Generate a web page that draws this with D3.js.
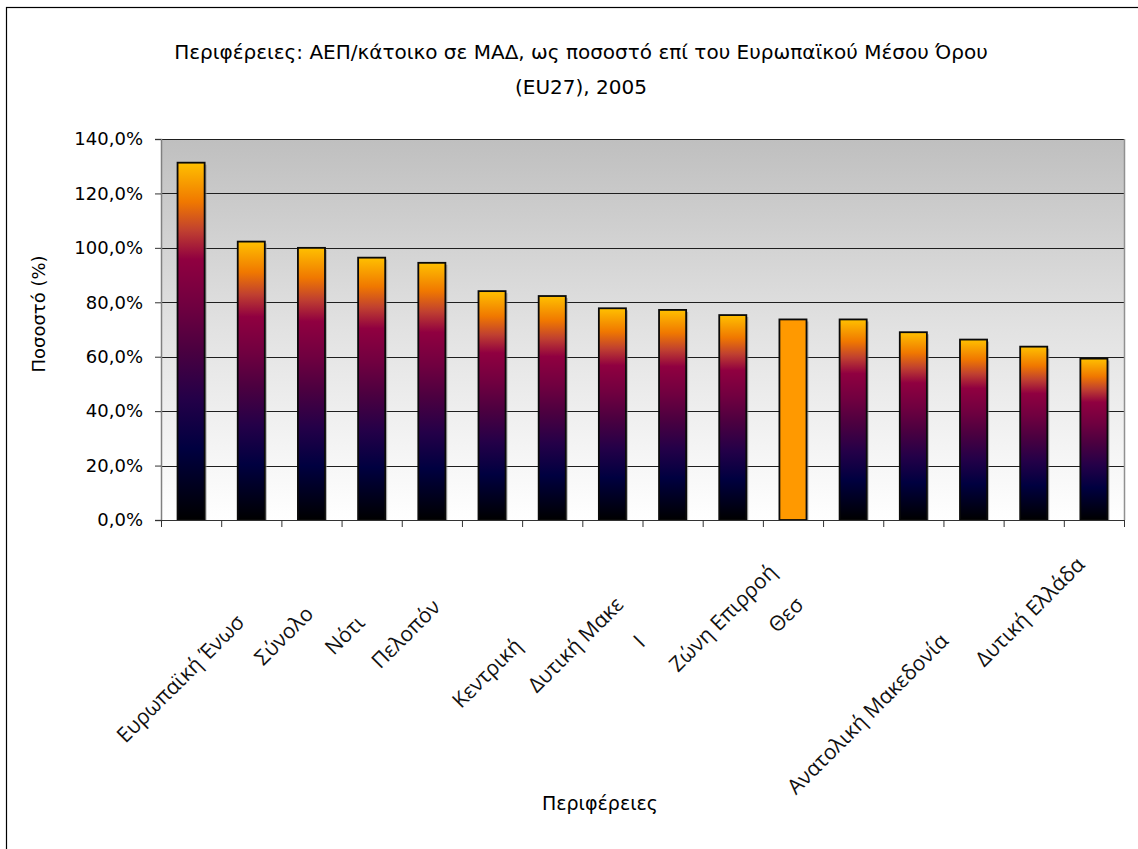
<!DOCTYPE html>
<html>
<head>
<meta charset="utf-8">
<script src="https://cdn.jsdelivr.net/npm/d3@7"></script>
<style>
body { margin: 0; background: #fff; }
text { font-family: "DejaVu Sans", sans-serif; }
.cat { font-family: "Open Sans", "Noto Sans", sans-serif; font-size: 21px; fill: #111; }
</style>
</head>
<body>
<div id="root"></div>
<script>
// data
var categories = [
  "Αττική",
  "Στερεά Ελλάδα",
  "Ευρωπαϊκή Ένωση (EU27)",
  "Σύνολο Χώρας",
  "Νότιο Αιγαίο",
  "Πελοπόννησος",
  "Κρήτη",
  "Κεντρική Μακεδονία",
  "Δυτική Μακεδονία",
  "Ιόνια Νησιά",
  "Ζώνη Επιρροής",
  "Θεσσαλία",
  "Βόρειο Αιγαίο",
  "Ήπειρος",
  "Ανατολική Μακεδονία και Θράκη",
  "Δυτική Ελλάδα"
];
var values = [131.3, 102.3, 100.0, 96.4, 94.5, 84.1, 82.3, 77.8, 77.2, 75.3, 73.7, 73.7, 69.0, 66.3, 63.7, 59.3];
// what is actually readable under each bar (the rest is cut off in the original)
var tickLabels = [
  "", "", "Ευρωπαϊκή Ένωσ", "Σύνολο", "Νότι", "Πελοπόν", "",
  "Κεντρική", "Δυτική Μακε", "Ι", "Ζώνη Επιρροή", "Θεσ", "", "",
  "Ανατολική Μακεδονία", "Δυτική Ελλάδα"
];
var highlighted = ["Ζώνη Επιρροής"];
var yTicks = [0, 20, 40, 60, 80, 100, 120, 140];
var titleLines = ["Περιφέρειες: ΑΕΠ/κάτοικο σε ΜΑΔ, ως ποσοστό επί του Ευρωπαϊκού Μέσου Όρου", "(EU27), 2005"];

var width = 1138;
var height = 849;
var margin = {top: 139, right: 14, bottom: 329, left: 161};

var svg = d3.select("#root")
.append("svg")
.attr("width", width)
.attr("height", height);

var defs = svg.append("defs");

// plot background, grey at the top fading to white
var bg = defs.append("linearGradient")
.attr("id", "plotBg")
.attr("x1", 0).attr("y1", 0).attr("x2", 0).attr("y2", 1);
bg.append("stop").attr("offset", "0%").attr("stop-color", "#bfbfbf");
bg.append("stop").attr("offset", "50%").attr("stop-color", "#e2e2e2");
bg.append("stop").attr("offset", "100%").attr("stop-color", "#ffffff");

// bar fill: yellow-orange top, magenta, purple, navy, black bottom
var barGrad = defs.append("linearGradient")
.attr("id", "barFill")
.attr("x1", 0).attr("y1", 0).attr("x2", 0).attr("y2", 1);
[
  ["0%", "#ffc000"],
  ["11%", "#f07800"],
  ["19%", "#c04030"],
  ["27%", "#900040"],
  ["40%", "#700040"],
  ["52%", "#4c0040"],
  ["66%", "#240048"],
  ["80%", "#000040"],
  ["100%", "#000000"]
].forEach(function(s) {
  barGrad.append("stop").attr("offset", s[0]).attr("stop-color", s[1]);
});

// outer chart border (only top and left show in the picture)
svg.append("rect")
.attr("x", 6.5).attr("y", 7.5)
.attr("width", width + 20).attr("height", height + 20)
.attr("fill", "none")
.attr("stroke", "#000")
.attr("stroke-width", 1.2);

var x = d3.scaleBand()
.domain(categories)
.range([margin.left, width - margin.right])
.paddingInner(0.55)
.paddingOuter(0.275);

var y = d3.scaleLinear()
.domain([0, 140])
.range([height - margin.bottom, margin.top]);

var plotW = width - margin.right - margin.left;
var plotH = height - margin.bottom - margin.top;

svg.append("rect")
.attr("x", margin.left).attr("y", margin.top)
.attr("width", plotW).attr("height", plotH)
.attr("fill", "url(#plotBg)");

// gridlines
svg.append("g")
.selectAll("line")
.data(yTicks.filter(function(d) { return d > 0; }))
.enter()
.append("line")
.attr("x1", margin.left).attr("x2", width - margin.right)
.attr("y1", function(d) { return Math.round(y(d)) + 0.5; })
.attr("y2", function(d) { return Math.round(y(d)) + 0.5; })
.attr("stroke", "#1e1e1e")
.attr("stroke-width", 1);

// right edge of plot
svg.append("line")
.attr("x1", width - margin.right + 0.5).attr("x2", width - margin.right + 0.5)
.attr("y1", margin.top).attr("y2", height - margin.bottom)
.attr("stroke", "#909090")
.attr("stroke-width", 1.5);

// bar shadows
svg.append("g")
.selectAll("rect")
.data(categories)
.enter()
.append("rect")
.attr("x", function(d) { return x(d) + 2; })
.attr("y", function(d, i) { return y(values[i]) + 2; })
.attr("width", x.bandwidth())
.attr("height", function(d, i) { return y(0) - y(values[i]) - 2; })
.attr("fill", "#8a8a8a")
.attr("opacity", 0.6);

// bars
svg.append("g")
.selectAll("rect")
.data(categories)
.enter()
.append("rect")
.attr("x", function(d) { return x(d); })
.attr("y", function(d, i) { return y(values[i]); })
.attr("width", x.bandwidth())
.attr("height", function(d, i) { return y(0) - y(values[i]); })
.attr("fill", function(d) { return highlighted.indexOf(d) >= 0 ? "#ff9900" : "url(#barFill)"; })
.attr("stroke", "#0a0a0a")
.attr("stroke-width", 1.8);

// y axis
var yAxis = d3.axisLeft(y)
.tickValues(yTicks)
.tickSize(6)
.tickPadding(12)
.tickFormat(function(d) { return d3.format(".1f")(d).replace(".", ",") + "%"; });

var yG = svg.append("g")
.attr("transform", "translate(" + margin.left + ",0)")
.call(yAxis);
yG.select(".domain").attr("stroke", "#808080").attr("stroke-width", 1.5);
yG.selectAll(".tick line").attr("stroke", "#333");
yG.selectAll(".tick text")
.attr("font-family", "DejaVu Sans")
.attr("font-size", "18px")
.attr("fill", "#000");

// x axis: tick marks on the band edges, labels drawn separately below
var xG = svg.append("g")
.attr("transform", "translate(0," + (height - margin.bottom) + ")");
xG.append("line")
.attr("x1", margin.left - 6).attr("x2", width - margin.right)
.attr("y1", 0.5).attr("y2", 0.5)
.attr("stroke", "#333");
xG.selectAll(".xt")
.data(categories.concat(["end"]))
.enter()
.append("line")
.attr("class", "xt")
.attr("x1", function(d, i) { return margin.left + i * x.step() + 0.5; })
.attr("x2", function(d, i) { return margin.left + i * x.step() + 0.5; })
.attr("y1", 0).attr("y2", 7)
.attr("stroke", "#333");

// rotated category labels, placed where the full name would end under its bar
var labelG = svg.append("g");
categories.forEach(function(c, i) {
  if (!tickLabels[i]) return;
  var cx = x(c) + x.bandwidth() / 2 - 8;
  var g = labelG.append("g")
  .attr("transform", "translate(" + cx + "," + (y(0) + 46) + ") rotate(-45)");
  var probe = g.append("text").attr("class", "cat").text(c);
  var len = probe.node().getComputedTextLength();
  probe.remove();
  g.append("text")
  .attr("class", "cat")
  .attr("x", -len)
  .text(tickLabels[i]);
});

// title
svg.append("g")
.selectAll("text")
.data(titleLines)
.enter()
.append("text")
.attr("x", 581)
.attr("y", function(d, i) { return 59 + i * 35; })
.attr("text-anchor", "middle")
.attr("font-size", "20px")
.text(function(d) { return d; });

// axis titles
svg.append("text")
.attr("x", 600)
.attr("y", 810)
.attr("text-anchor", "middle")
.attr("font-size", "19px")
.text("Περιφέρειες");

svg.append("text")
.attr("transform", "translate(45,314) rotate(-90)")
.attr("text-anchor", "middle")
.attr("font-size", "18px")
.text("Ποσοστό (%)");
</script>
</body>
</html>
